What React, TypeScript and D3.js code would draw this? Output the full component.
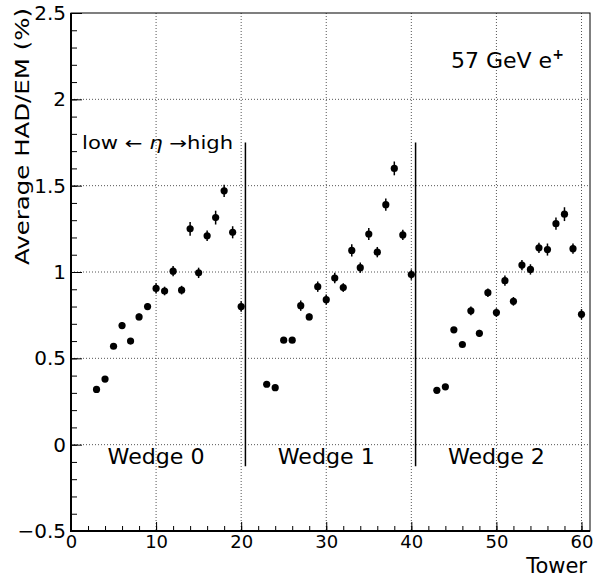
import React, { useEffect, useRef } from 'react';
import * as d3 from 'd3';

// Tower numbers and average HAD/EM (%) per wedge
const towers0 = [3, 4, 5, 6, 7, 8, 9, 10, 11, 12, 13, 14, 15, 16, 17, 18, 19, 20];
const towers1 = [23, 24, 25, 26, 27, 28, 29, 30, 31, 32, 33, 34, 35, 36, 37, 38, 39, 40];
const towers2 = [43, 44, 45, 46, 47, 48, 49, 50, 51, 52, 53, 54, 55, 56, 57, 58, 59, 60];

const hadem0 = [0.32, 0.38, 0.57, 0.69, 0.60, 0.74, 0.80, 0.905, 0.89, 1.005, 0.895, 1.25, 0.995, 1.21, 1.315, 1.47, 1.23, 0.80];
const hadem1 = [0.35, 0.33, 0.605, 0.605, 0.805, 0.74, 0.915, 0.84, 0.965, 0.91, 1.125, 1.025, 1.22, 1.115, 1.39, 1.60, 1.215, 0.985];
const hadem2 = [0.315, 0.335, 0.665, 0.58, 0.775, 0.645, 0.88, 0.765, 0.95, 0.83, 1.04, 1.015, 1.14, 1.13, 1.28, 1.335, 1.135, 0.755];

const err0 = [0.01, 0.01, 0.015, 0.02, 0.015, 0.02, 0.02, 0.03, 0.025, 0.03, 0.025, 0.04, 0.03, 0.03, 0.04, 0.035, 0.035, 0.03];
const err1 = [0.01, 0.01, 0.015, 0.015, 0.03, 0.02, 0.03, 0.03, 0.03, 0.025, 0.035, 0.03, 0.035, 0.03, 0.035, 0.04, 0.03, 0.03];
const err2 = [0.01, 0.01, 0.015, 0.015, 0.025, 0.02, 0.025, 0.025, 0.03, 0.025, 0.03, 0.03, 0.03, 0.035, 0.035, 0.04, 0.03, 0.03];

const wedgeNames = ['Wedge 0', 'Wedge 1', 'Wedge 2'];
const wedgeCenters = [10, 30, 50];
const dividers = [20.5, 40.5];

const xTicks = [0, 10, 20, 30, 40, 50, 60];
const yTicks = [-0.5, 0, 0.5, 1, 1.5, 2, 2.5];

const FONT = "'DejaVu Sans', Arial, sans-serif";

const App = () => {
  const svgRef = useRef<SVGSVGElement>(null);

  useEffect(() => {
    const width = 593;
    const height = 579;
    const frame = { left: 71, top: 13, right: 590, bottom: 531 };

    const svg = d3.select(svgRef.current)
      .attr('width', width)
      .attr('height', height)
      .style('font-family', FONT);
    svg.selectAll('*').remove();

    svg.append('rect')
      .attr('width', width)
      .attr('height', height)
      .attr('fill', 'white');

    const x = d3.scaleLinear().domain([0, 61]).range([frame.left, frame.right]);
    const y = d3.scaleLinear().domain([-0.5, 2.5]).range([frame.bottom, frame.top]);

    // Dotted grid
    svg.append('g')
      .selectAll('line')
      .data(xTicks.filter(d => d > 0))
      .enter()
      .append('line')
      .attr('x1', d => x(d)).attr('x2', d => x(d))
      .attr('y1', frame.top).attr('y2', frame.bottom)
      .attr('stroke', '#555')
      .attr('stroke-dasharray', '1,2');

    svg.append('g')
      .selectAll('line')
      .data(yTicks.filter(d => d > -0.5 && d < 2.5))
      .enter()
      .append('line')
      .attr('x1', frame.left).attr('x2', frame.right)
      .attr('y1', d => y(d)).attr('y2', d => y(d))
      .attr('stroke', '#555')
      .attr('stroke-dasharray', '1,2');

    // Frame
    svg.append('rect')
      .attr('x', frame.left)
      .attr('y', frame.top)
      .attr('width', frame.right - frame.left)
      .attr('height', frame.bottom - frame.top)
      .attr('fill', 'none')
      .attr('stroke', 'black')
      .attr('stroke-width', 1);

    // X axis: major + minor ticks pointing into the frame
    const xAxis = svg.append('g')
      .attr('transform', `translate(0,${frame.bottom})`)
      .call(d3.axisBottom(x).tickValues(xTicks).tickSize(-9).tickPadding(4).tickFormat(d3.format('d')));
    svg.append('g')
      .attr('transform', `translate(0,${frame.bottom})`)
      .call(d3.axisBottom(x).tickValues(d3.range(0, 61, 2)).tickSize(-5).tickFormat(() => ''))
      .select('.domain').remove();
    xAxis.select('.domain').remove();
    xAxis.selectAll('text')
      .attr('font-size', 18)
      .attr('font-family', FONT)
      .attr('fill', 'black');

    // Y axis
    const yAxis = svg.append('g')
      .attr('transform', `translate(${frame.left},0)`)
      .call(d3.axisLeft(y).tickValues(yTicks).tickSize(-11).tickPadding(5).tickFormat(d3.format('~g')));
    svg.append('g')
      .attr('transform', `translate(${frame.left},0)`)
      .call(d3.axisLeft(y).tickValues(d3.range(-5, 26).map(i => i / 10)).tickSize(-6).tickFormat(() => ''))
      .select('.domain').remove();
    yAxis.select('.domain').remove();
    yAxis.selectAll('text')
      .attr('font-size', 20)
      .attr('font-family', FONT)
      .attr('fill', 'black');

    // Heavier axis lines
    svg.append('line')
      .attr('x1', frame.left).attr('x2', frame.left)
      .attr('y1', frame.top).attr('y2', frame.bottom + 1)
      .attr('stroke', 'black').attr('stroke-width', 2);
    svg.append('line')
      .attr('x1', frame.left - 1).attr('x2', frame.right)
      .attr('y1', frame.bottom).attr('y2', frame.bottom)
      .attr('stroke', 'black').attr('stroke-width', 2);

    // Wedge dividers
    svg.append('g')
      .selectAll('line')
      .data(dividers)
      .enter()
      .append('line')
      .attr('x1', d => x(d)).attr('x2', d => x(d))
      .attr('y1', y(1.75)).attr('y2', y(-0.125))
      .attr('stroke', 'black')
      .attr('stroke-width', 1.5);

    // Data points with error bars
    const series = [
      { towers: towers0, vals: hadem0, errs: err0 },
      { towers: towers1, vals: hadem1, errs: err1 },
      { towers: towers2, vals: hadem2, errs: err2 },
    ];
    series.forEach(s => {
      const pts = s.towers.map((t, i) => ({ t, v: s.vals[i], e: s.errs[i] }));
      const g = svg.append('g');
      g.selectAll('.err')
        .data(pts)
        .enter()
        .append('line')
        .attr('class', 'err')
        .attr('x1', d => x(d.t)).attr('x2', d => x(d.t))
        .attr('y1', d => y(d.v + d.e)).attr('y2', d => y(d.v - d.e))
        .attr('stroke', 'black')
        .attr('stroke-width', 1.5);
      g.selectAll('.pt')
        .data(pts)
        .enter()
        .append('circle')
        .attr('class', 'pt')
        .attr('cx', d => x(d.t))
        .attr('cy', d => y(d.v))
        .attr('r', 3.6)
        .attr('fill', 'black');
    });

    // Wedge labels
    svg.append('g')
      .selectAll('text')
      .data(wedgeNames)
      .enter()
      .append('text')
      .attr('x', (d, i) => x(wedgeCenters[i]))
      .attr('y', y(-0.11))
      .attr('text-anchor', 'middle')
      .attr('font-size', 21)
      .attr('textLength', 97)
      .attr('lengthAdjust', 'spacingAndGlyphs')
      .text(d => d);

    // eta direction note
    const eta = svg.append('text')
      .attr('x', x(1.3))
      .attr('y', y(1.71))
      .attr('font-size', 17)
      .attr('textLength', 151)
      .attr('lengthAdjust', 'spacingAndGlyphs');
    eta.append('tspan').text('low \u2190 ');
    eta.append('tspan').attr('font-style', 'italic').text('\u03B7');
    eta.append('tspan').text(' \u2192high');

    // Beam label
    const beam = svg.append('text')
      .attr('x', 451)
      .attr('y', 68)
      .attr('font-size', 22);
    beam.append('tspan').text('57 GeV e');
    beam.append('tspan').attr('font-size', 14).attr('font-weight', 'bold').attr('dy', -9).text('+');

    // Axis titles
    svg.append('text')
      .attr('x', frame.right - 3)
      .attr('y', 573)
      .attr('text-anchor', 'end')
      .attr('font-size', 21)
      .text('Tower');

    svg.append('text')
      .attr('transform', `translate(29,${frame.top - 5}) rotate(-90)`)
      .attr('text-anchor', 'end')
      .attr('font-size', 20)
      .attr('textLength', 257)
      .attr('lengthAdjust', 'spacingAndGlyphs')
      .text('Average HAD/EM (%)');
  }, []);

  return (
    <svg ref={svgRef} style={{ position: 'absolute', left: 0, top: 0, display: 'block' }}></svg>
  );
};

export default App;
